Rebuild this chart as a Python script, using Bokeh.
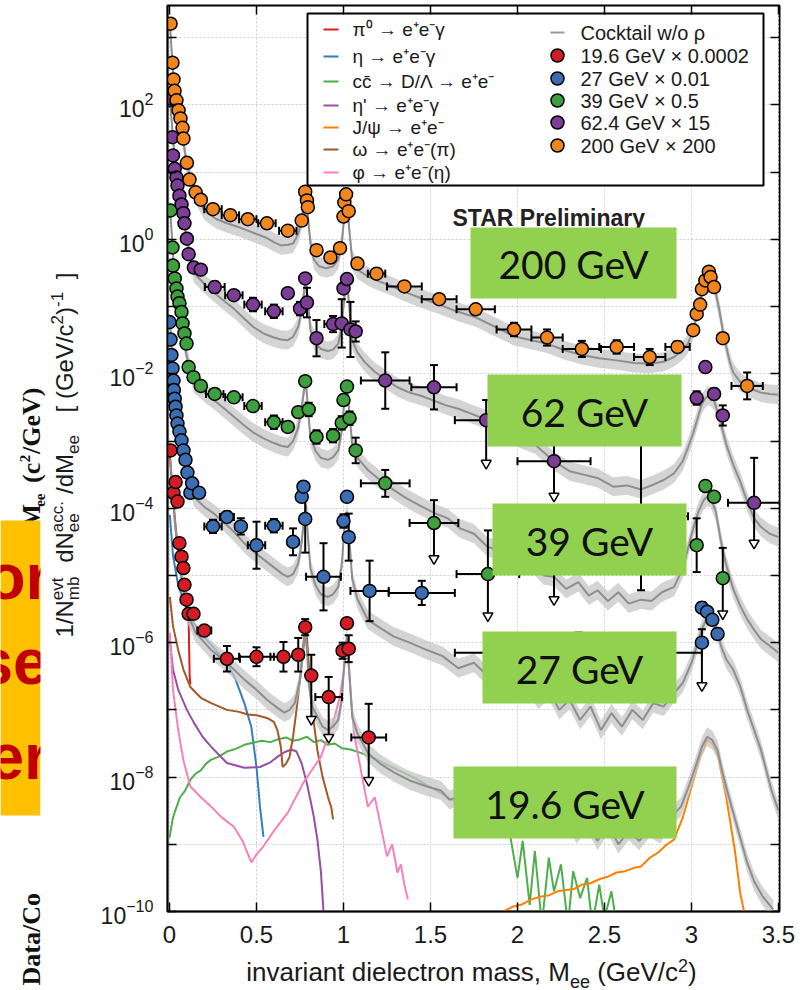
import math
from bokeh.plotting import figure
from bokeh.layouts import row, column
from bokeh.models import (Range1d, LinearAxis, LogAxis, FixedTicker, NumeralTickFormatter,
                          CustomJSTickFormatter, LogTickFormatter)
from bokeh.core.properties import value
from bokeh.embed import file_html
from bokeh.resources import INLINE

# ---------------- data (log10 of y) ----------------
# 200 GeV x 200 (orange)
x200 = [0.006, 0.017, 0.023, 0.029, 0.04, 0.052, 0.063, 0.075, 0.08, 0.10,
        0.115, 0.15, 0.18, 0.25, 0.35, 0.45, 0.56, 0.68, 0.76, 0.78,
        0.79, 0.795, 0.845, 0.925, 0.98, 1.0, 1.005, 1.015, 1.03, 1.08,
        1.19, 1.35, 1.55, 1.76, 1.98, 2.17, 2.37, 2.57, 2.76, 2.92,
        3.01, 3.03, 3.05, 3.06, 3.08, 3.10, 3.11, 3.13, 3.18, 3.32]
ly200 = [3.21, 2.63, 2.38, 2.21, 2.07, 1.92, 1.80, 1.66, 1.50, 1.14,
         0.89, 0.70, 0.59, 0.45, 0.36, 0.30, 0.24, 0.13, 0.28, 0.71,
         0.58, 0.48, -0.16, -0.27, -0.13, 0.34, 0.55, 0.67, 0.42, -0.36,
         -0.51, -0.70, -0.89, -1.04, -1.34, -1.46, -1.63, -1.60, -1.75, -1.60,
         -1.35, -1.11, -0.97, -0.74, -0.61, -0.48, -0.56, -0.71, -1.47, -2.18]
xe200 = [0] * 13 + [0.05, 0.05, 0.05, 0.05, 0.05, 0.02, 0,
                    0, 0, 0.02, 0.03, 0.02, 0, 0, 0, 0, 0.03,
                    0.05, 0.1, 0.1, 0.11, 0.1, 0.09, 0.11, 0.1, 0.09, 0.07,
                    0, 0, 0, 0, 0, 0, 0, 0, 0.03, 0.09]
ye200 = [0] * 13 + [0.04, 0.04, 0.04, 0.04, 0.04, 0.04, 0,
                    0, 0, 0.06, 0.05, 0.06, 0, 0, 0, 0, 0.05,
                    0.06, 0.06, 0.06, 0.06, 0.1, 0.12, 0.12, 0.1, 0.12, 0.08,
                    0.04, 0.04, 0, 0, 0, 0, 0, 0, 0.05, 0.2]
ul200 = [None] * 50

# 62.4 GeV x 15 (purple)
x62 = [0.0, 0.017, 0.02, 0.03, 0.04, 0.046, 0.057, 0.069, 0.08, 0.086,
       0.10, 0.11, 0.14, 0.18, 0.26, 0.37, 0.48, 0.60, 0.68, 0.75,
       0.78, 0.79, 0.845, 0.94, 0.99, 1.0, 1.02, 1.04, 1.07, 1.24,
       1.52, 1.82, 2.21, 3.03, 3.08, 3.13, 3.18, 3.36]
ly62 = [2.07, 1.52, 1.25, 1.05, 0.92, 0.80, 0.65, 0.52, 0.39, 0.24,
        0.01, -0.22, -0.42, -0.45, -0.71, -0.83, -0.97, -1.07, -0.80, -1.03,
        -0.58, -0.94, -1.47, -1.26, -1.25, -0.73, -0.59, -1.34, -1.37, -2.10,
        -2.20, -2.69, -3.30, -2.36, -1.90, -2.30, -2.62, -3.92]
xe62 = [0] * 14 + [0.057, 0.05, 0.05, 0.05, 0, 0.02,
                   0, 0, 0.02, 0.05, 0.02, 0, 0, 0.02, 0.03, 0.14,
                   0.13, 0.18, 0.21, 0, 0, 0, 0, 0.15]
ye62 = [0] * 14 + [0.08, 0.06, 0.1, 0.1, 0, 0.1,
                   0, 0.22, 0.27, 0.12, 0.36, 0, 0, 0.41, 0.15, 0.42,
                   0.33, 0.3, 0.3, 0.1, 0, 0.08, 0.15, 0.67]
ul62 = [None] * 31 + [-3.39, -3.88, None, None, None, None, -4.58]

# 39 GeV x 0.5 (green)
x39 = [0.006, 0.017, 0.02, 0.03, 0.04, 0.046, 0.057, 0.069, 0.075, 0.086,
       0.098, 0.11, 0.138, 0.18, 0.26, 0.37, 0.48, 0.60, 0.68, 0.74,
       0.78, 0.80, 0.845, 0.94, 0.99, 1.0, 1.02, 1.035, 1.07, 1.24,
       1.52, 1.83, 2.71, 3.03, 3.08, 3.13, 3.18]
ly39 = [0.43, -0.12, -0.39, -0.58, -0.73, -0.85, -0.95, -1.08, -1.25, -1.40,
        -1.55, -1.90, -2.05, -2.18, -2.30, -2.35, -2.48, -2.72, -2.79, -2.57,
        -2.11, -2.53, -2.94, -2.92, -2.73, -2.39, -2.19, -2.66, -3.14, -3.63,
        -4.22, -4.98, -4.12, -4.55, -3.67, -3.83, -5.04]
xe39 = [0] * 14 + [0.05, 0.05, 0.05, 0.05, 0, 0.02,
                   0, 0, 0.03, 0.03, 0, 0, 0, 0, 0.02, 0.14,
                   0.14, 0.18, 0.27, 0, 0, 0, 0]
ye39 = [0] * 14 + [0.04, 0.04, 0.06, 0.1, 0, 0.06,
                   0.05, 0.1, 0.1, 0.1, 0.1, 0, 0, 0.1, 0.19, 0.2,
                   0.34, 0.65, 1.1, 0.4, 0, 0, 0.45]
ul39 = [None] * 30 + [-4.81, -5.66, None, None, None, None, -5.63]

# 27 GeV x 0.01 (blue)
x27 = [0.0, 0.006, 0.011, 0.017, 0.023, 0.025, 0.03, 0.035, 0.04, 0.046,
       0.057, 0.069, 0.08, 0.092, 0.103, 0.12, 0.13, 0.17, 0.25, 0.33,
       0.41, 0.50, 0.60, 0.71, 0.76, 0.77, 0.78, 0.885, 1.0, 1.02,
       1.03, 1.15, 1.45, 2.21, 2.35, 3.06, 3.06, 3.09, 3.12, 3.15]
ly27 = [-1.23, -1.49, -1.72, -1.92, -2.10, -2.24, -2.37, -2.49, -2.62, -2.74,
        -2.86, -2.99, -3.14, -3.28, -3.47, -3.77, -3.63, -3.77, -4.27, -4.13,
        -4.27, -4.55, -4.26, -4.50, -3.83, -3.68, -4.16, -5.02, -4.19, -3.83,
        -4.43, -5.23, -5.26, -4.84, -6.15, -6.00, -5.48, -5.54, -5.66, -5.87]
xe27 = [0] * 18 + [0.05, 0.04,
                   0.03, 0.05, 0.05, 0.03, 0, 0, 0, 0.1, 0, 0,
                   0, 0.11, 0.19, 0.1, 0.71, 0, 0, 0, 0, 0]
ye27 = [0] * 18 + [0.1, 0.08,
                   0.12, 0.35, 0.1, 0.2, 0, 0, 0.5, 0.5, 0.1, 0,
                   0.35, 0.45, 0.18, 0.1, 0.3, 0.2, 0.08, 0, 0, 0.08]
ul27 = [None] * 33 + [-5.42, None, -6.70, None, None, None, None]

# 19.6 GeV x 0.0002 (red)
x19 = [0.006, 0.023, 0.035, 0.046, 0.057, 0.069, 0.08, 0.086, 0.098, 0.11,
       0.138, 0.20, 0.33, 0.50, 0.655, 0.74, 0.78, 0.815, 0.915, 0.995,
       1.02, 1.03, 1.145]
ly19 = [-3.14, -3.77, -3.61, -3.90, -4.52, -4.72, -4.89, -5.14, -5.36, -5.57,
        -5.57, -5.82, -6.24, -6.21, -6.21, -6.18, -5.77, -6.49, -6.81, -6.12,
        -5.71, -6.09, -7.41]
xe19 = [0] * 11 + [0.04, 0.075, 0.1, 0.075, 0.03, 0, 0, 0.077, 0, 0, 0, 0.1]
ye19 = [0] * 11 + [0, 0.19, 0.14, 0.22, 0.25, 0.12, 0.31, 0.3, 0.12, 0.05, 0.2, 0.5]
ul19 = [None] * 17 + [-7.2, -7.47, None, None, None, -8.11]

# cocktails w/o rho (log10)
c200_x = [0.005, 0.02, 0.05, 0.08, 0.10, 0.15, 0.20, 0.27, 0.33, 0.40,
          0.45, 0.50, 0.56, 0.60, 0.64, 0.68, 0.71, 0.74, 0.76, 0.775,
          0.785, 0.795, 0.81, 0.83, 0.86, 0.90, 0.94, 0.97, 0.99, 1.005,
          1.02, 1.035, 1.05, 1.08, 1.14, 1.20, 1.28, 1.35, 1.45, 1.55,
          1.65, 1.76, 1.87, 1.98, 2.08, 2.17, 2.27, 2.37, 2.47, 2.57,
          2.67, 2.76, 2.84, 2.90, 2.95, 2.98, 3.01, 3.03, 3.05, 3.07,
          3.09, 3.11, 3.13, 3.16, 3.18, 3.20, 3.22, 3.24, 3.28, 3.32,
          3.36, 3.40, 3.45, 3.50]
c200_ly = [3.1, 2.5, 2.0, 1.45, 1.1, 0.68, 0.43, 0.30, 0.24, 0.18,
           0.13, 0.08, 0.02, -0.04, -0.09, -0.08, -0.06, 0.08, 0.30, 0.55,
           0.62, 0.35, -0.05, -0.30, -0.40, -0.43, -0.40, -0.30, -0.05, 0.35,
           0.55, 0.10, -0.30, -0.45, -0.55, -0.62, -0.70, -0.78, -0.88, -0.97,
           -1.07, -1.16, -1.30, -1.44, -1.50, -1.55, -1.65, -1.72, -1.77, -1.80,
           -1.84, -1.85, -1.82, -1.75, -1.65, -1.55, -1.35, -1.12, -0.90, -0.70,
           -0.57, -0.56, -0.68, -1.05, -1.35, -1.60, -1.82, -1.98, -2.12, -2.19,
           -2.24, -2.28, -2.30, -2.31]
c62_x = [0.005, 0.03, 0.06, 0.10, 0.14, 0.20, 0.26, 0.33, 0.37, 0.43,
         0.48, 0.54, 0.60, 0.64, 0.68, 0.71, 0.74, 0.76, 0.775, 0.785,
         0.795, 0.81, 0.84, 0.87, 0.91, 0.94, 0.97, 0.99, 1.005, 1.02,
         1.035, 1.05, 1.08, 1.12, 1.18, 1.24, 1.31, 1.38, 1.45, 1.52,
         1.59, 1.66, 1.74, 1.82, 1.90, 2.00, 2.10, 2.21, 2.30, 2.38,
         2.46, 2.55, 2.63, 2.71, 2.78, 2.84, 2.90, 2.95, 2.98, 3.01,
         3.04, 3.06, 3.08, 3.10, 3.13, 3.16, 3.20, 3.24, 3.28, 3.32,
         3.36, 3.40, 3.45, 3.50]
c62_ly = [2.0, 1.2, 0.6, 0.0, -0.50, -0.66, -0.80, -0.95, -1.03, -1.18,
          -1.30, -1.40, -1.46, -1.49, -1.50, -1.45, -1.30, -1.05, -0.75, -0.62,
          -0.90, -1.35, -1.55, -1.63, -1.66, -1.64, -1.55, -1.30, -0.85, -0.62,
          -1.05, -1.50, -1.68, -1.82, -1.97, -2.08, -2.20, -2.28, -2.33, -2.40,
          -2.47, -2.52, -2.60, -2.68, -2.85, -2.95, -3.05, -3.30, -3.45, -3.50,
          -3.55, -3.68, -3.66, -3.72, -3.65, -3.58, -3.48, -3.30, -3.10, -2.88,
          -2.62, -2.45, -2.36, -2.32, -2.40, -2.65, -3.05, -3.35, -3.60, -3.90,
          -4.15, -4.28, -4.38, -4.43]
c39_x = [0.005, 0.03, 0.06, 0.10, 0.14, 0.20, 0.26, 0.33, 0.37, 0.43,
         0.48, 0.54, 0.60, 0.64, 0.68, 0.71, 0.74, 0.76, 0.775, 0.785,
         0.795, 0.81, 0.84, 0.87, 0.91, 0.94, 0.97, 0.99, 1.005, 1.02,
         1.035, 1.05, 1.08, 1.14, 1.21, 1.29, 1.36, 1.44, 1.52, 1.60,
         1.67, 1.75, 1.83, 1.91, 2.00, 2.08, 2.15, 2.21, 2.28, 2.35,
         2.41, 2.46, 2.52, 2.58, 2.64, 2.71, 2.77, 2.83, 2.90, 2.95,
         2.98, 3.01, 3.04, 3.07, 3.09, 3.11, 3.14, 3.17, 3.20, 3.24,
         3.28, 3.32, 3.36, 3.40, 3.45, 3.50]
c39_ly = [0.4, -0.6, -1.2, -1.75, -2.14, -2.28, -2.40, -2.55, -2.64, -2.77,
          -2.87, -2.96, -3.03, -3.07, -3.09, -3.00, -2.80, -2.50, -2.20, -2.12,
          -2.50, -2.95, -3.15, -3.25, -3.28, -3.24, -3.14, -2.85, -2.40, -2.22,
          -2.60, -3.05, -3.25, -3.43, -3.58, -3.73, -3.85, -3.96, -4.07, -4.15,
          -4.30, -4.38, -4.58, -4.62, -4.82, -4.80, -5.00, -5.02, -5.20, -5.10,
          -5.30, -5.22, -5.38, -5.25, -5.42, -5.36, -5.38, -5.25, -5.17, -4.90,
          -4.60, -4.30, -4.05, -3.88, -3.83, -3.85, -4.05, -4.50, -4.85, -5.20,
          -5.45, -5.65, -5.81, -5.95, -6.05, -6.15]
c27_x = [0.005, 0.03, 0.06, 0.10, 0.14, 0.20, 0.25, 0.31, 0.37, 0.44,
         0.52, 0.60, 0.65, 0.68, 0.71, 0.74, 0.76, 0.775, 0.785, 0.795,
         0.81, 0.84, 0.87, 0.91, 0.94, 0.97, 0.99, 1.005, 1.02, 1.035,
         1.05, 1.08, 1.14, 1.21, 1.29, 1.38, 1.48, 1.57, 1.66, 1.75,
         1.83, 1.91, 2.00, 2.06, 2.12, 2.18, 2.24, 2.30, 2.36, 2.42,
         2.48, 2.54, 2.60, 2.66, 2.72, 2.78, 2.84, 2.90, 2.95, 3.00,
         3.03, 3.06, 3.09, 3.11, 3.14, 3.17, 3.20, 3.24, 3.28, 3.32,
         3.36, 3.40, 3.43, 3.46, 3.50]
c27_ly = [-1.3, -2.3, -2.9, -3.4, -3.83, -3.98, -4.07, -4.20, -4.35, -4.55,
          -4.72, -4.88, -4.98, -5.02, -4.98, -4.82, -4.50, -4.10, -3.95, -4.40,
          -4.90, -5.15, -5.28, -5.32, -5.28, -5.17, -4.85, -4.30, -4.05, -4.50,
          -5.05, -5.35, -5.66, -5.78, -5.91, -6.00, -6.11, -6.20, -6.38, -6.30,
          -6.50, -6.45, -6.70, -6.60, -6.85, -6.70, -7.00, -6.85, -7.15, -6.95,
          -7.30, -7.05, -7.25, -7.00, -7.15, -6.90, -6.95, -6.75, -6.60, -6.30,
          -6.05, -5.80, -5.62, -5.60, -5.75, -6.05, -6.25, -6.40, -6.65, -7.00,
          -7.30, -7.60, -7.90, -8.20, -8.50]
c19_x = [0.005, 0.03, 0.06, 0.10, 0.15, 0.24, 0.33, 0.43, 0.50, 0.56,
         0.62, 0.66, 0.69, 0.72, 0.75, 0.77, 0.78, 0.79, 0.80, 0.82,
         0.85, 0.88, 0.91, 0.94, 0.97, 0.99, 1.005, 1.02, 1.035, 1.05,
         1.08, 1.14, 1.21, 1.29, 1.38, 1.48, 1.56, 1.61, 1.70, 1.80,
         1.90, 1.97, 2.04, 2.10, 2.16, 2.22, 2.28, 2.34, 2.40, 2.46,
         2.52, 2.58, 2.64, 2.70, 2.76, 2.82, 2.88, 2.94, 2.99, 3.03,
         3.06, 3.09, 3.12, 3.15, 3.18, 3.21, 3.24, 3.28, 3.32, 3.36,
         3.41, 3.47]
c19_ly = [-3.3, -4.2, -4.9, -5.55, -5.85, -6.11, -6.30, -6.55, -6.70, -6.85,
          -6.97, -7.04, -7.00, -6.90, -6.55, -6.10, -5.85, -6.10, -6.60, -6.95,
          -7.10, -7.25, -7.30, -7.25, -7.15, -6.85, -6.30, -5.90, -6.50, -7.10,
          -7.35, -7.64, -7.80, -7.93, -8.05, -8.14, -8.20, -8.34, -8.25, -8.45,
          -8.30, -8.50, -8.35, -8.60, -8.45, -8.75, -8.55, -8.85, -8.65, -8.95,
          -8.70, -9.00, -8.80, -8.95, -8.75, -8.85, -8.60, -8.44, -8.10, -7.79,
          -7.55, -7.40, -7.45, -7.60, -7.95, -8.25, -8.53, -8.90, -9.27, -9.55,
          -9.78, -9.97]
BAND = 0.14  # half width of cocktail uncertainty band (log10)

# cocktail components (19.6 GeV scaling), log10
pi0_x = [0.002, 0.02, 0.04, 0.06, 0.08, 0.10, 0.11, 0.113, 0.116, 0.12]
pi0_ly = [-3.2, -3.85, -4.4, -4.85, -5.2, -5.5, -5.62, -6.1, -6.5, -6.62]
eta_x = [0.002, 0.02, 0.05, 0.1, 0.14, 0.2, 0.27, 0.33, 0.38, 0.43, 0.47, 0.5, 0.52, 0.54]
eta_ly = [-4.1, -4.7, -5.15, -5.5, -5.71, -5.92, -6.12, -6.30, -6.55, -6.9, -7.25, -7.85, -8.44, -8.89]
cc_x = [0.0, 0.02, 0.04, 0.06, 0.09, 0.12, 0.15, 0.18, 0.21, 0.24,
        0.28, 0.33, 0.38, 0.43, 0.48, 0.53, 0.58, 0.62, 0.67, 0.71,
        0.75, 0.79, 0.83, 0.87, 0.91, 0.95, 0.99, 1.04, 1.1, 1.2,
        1.3, 1.4, 1.5, 1.6, 1.7, 1.8, 1.9, 1.96, 2.0, 2.03,
        2.07, 2.1, 2.14, 2.18, 2.21, 2.25, 2.29, 2.32, 2.36, 2.4,
        2.43, 2.47, 2.5, 2.54, 2.57, 2.6]
cc_ly = [-8.9, -8.6, -8.45, -8.3, -8.2, -8.04, -7.95, -7.9, -7.8, -7.74,
         -7.7, -7.62, -7.58, -7.52, -7.49, -7.46, -7.48, -7.44, -7.41, -7.46,
         -7.44, -7.4, -7.48, -7.45, -7.52, -7.5, -7.57, -7.59, -7.64, -7.75,
         -7.88, -8.0, -8.15, -8.3, -8.45, -8.6, -8.75, -8.9, -9.5, -8.95,
         -9.9, -9.1, -10.2, -9.2, -9.7, -9.3, -10.2, -9.4, -9.8, -9.5,
         -10.2, -9.6, -10.1, -9.7, -10.2, -10.1]
etap_x = [0.002, 0.02, 0.05, 0.1, 0.14, 0.19, 0.24, 0.33, 0.43, 0.52, 0.58,
          0.62, 0.66, 0.70, 0.73, 0.76, 0.79, 0.81, 0.83, 0.85, 0.87, 0.885]
etap_ly = [-5.96, -6.4, -6.70, -7.0, -7.19, -7.4, -7.55, -7.79, -7.86, -7.85, -7.78,
           -7.70, -7.63, -7.59, -7.62, -7.8, -8.1, -8.34, -8.6, -8.93, -9.4, -10.0]
jpsi_x = [1.92, 1.97, 2.02, 2.08, 2.13, 2.18, 2.23, 2.28, 2.32, 2.37,
          2.42, 2.47, 2.52, 2.57, 2.62, 2.67, 2.71, 2.76, 2.81, 2.86,
          2.9, 2.95, 3.0, 3.05, 3.09, 3.12, 3.15, 3.2, 3.25, 3.28, 3.31]
jpsi_ly = [-10.0, -9.93, -9.9, -9.82, -9.78, -9.76, -9.7, -9.68, -9.67, -9.6,
           -9.58, -9.52, -9.48, -9.42, -9.4, -9.35, -9.33, -9.2, -9.12, -9.0,
           -8.93, -8.6, -8.15, -7.7, -7.45, -7.5, -7.66, -8.3, -9.1, -9.72, -10.1]
omega_x = [0.002, 0.02, 0.05, 0.08, 0.12, 0.18, 0.24, 0.33, 0.4, 0.45,
           0.5, 0.56, 0.6, 0.62, 0.64, 0.65, 0.67, 0.69, 0.71, 0.73,
           0.75, 0.77, 0.785, 0.80, 0.82, 0.85, 0.88, 0.91, 0.93, 0.94]
omega_ly = [-5.32, -5.75, -6.11, -6.4, -6.66, -6.82, -6.90, -7.0, -7.03, -7.07,
            -7.08, -7.12, -7.18, -7.30, -7.55, -7.85, -7.8, -7.7, -7.4, -7.0,
            -6.55, -6.0, -5.75, -6.3, -7.0, -7.6, -8.0, -8.29, -8.45, -8.63]
phi_x = [0.002, 0.02, 0.05, 0.08, 0.12, 0.18, 0.24, 0.3, 0.37, 0.42,
         0.47, 0.5, 0.54, 0.6, 0.68, 0.77, 0.87, 0.94, 0.98, 1.0,
         1.02, 1.04, 1.06, 1.1, 1.14, 1.18, 1.22, 1.25, 1.28, 1.31,
         1.33, 1.35, 1.37]
phi_ly = [-5.85, -6.7, -7.30, -7.75, -8.14, -8.3, -8.44, -8.6, -8.74, -8.95,
          -9.27, -9.15, -9.03, -8.8, -8.53, -8.08, -7.70, -7.19, -6.8, -6.45,
          -6.0, -6.7, -7.34, -7.9, -8.44, -8.3, -8.8, -9.18, -9.0, -9.42,
          -9.3, -9.6, -9.82]

XTICKS = [0, 0.5, 1, 1.5, 2, 2.5, 3, 3.5]
YMAJ_EXP = [-10, -8, -6, -4, -2, 0, 2]
YMIN_EXP = [-9, -7, -5, -3, -1, 1, 3]

comp_names = ["π⁰ → e⁺e⁻γ", "η → e⁺e⁻γ", "cc\u0304 → D/Λ → e⁺e⁻", "η' → e⁺e⁻γ",
              "J/ψ → e⁺e⁻", "ω → e⁺e⁻(π)", "φ → e⁺e⁻(η)"]
data_names = ["19.6 GeV × 0.0002", "27 GeV × 0.01", "39 GeV × 0.5",
              "62.4 GeV × 15", "200 GeV × 200"]
box_names = ["200 GeV", "62 GeV", "39 GeV", "27 GeV", "19.6 GeV"]

# ---------------- styles / geometry ----------------
COMP_COLORS = ["#e41a1c", "#377eb8", "#4daf4a", "#984ea3", "#ff7f00", "#a65628", "#f781bf"]
DATA_COLORS = ["#d41c24", "#3b6db3", "#3e9f3e", "#7b3d96", "#f2861e"]
TXT = "#1a1a1a"
FONT = "Liberation Sans"
MID = 0.36  # cap-centre offset (fraction of font size) above baseline

W, H = 809, 990
SPLIT = 88            # width of the left strip (slide remnants + y title)
TITLE_H = 35          # height of the strip under the main plot (x title)
FL, FR, FT, FB = 167, 779, 5, 911
X0, X1 = -0.0115, 3.506
LY0, LY1 = -10.0, 3.48


def X(px):
    return X0 + (px - FL) / (FR - FL) * (X1 - X0)


def Y(py):
    return 10 ** (LY1 - (py - FT) / (FB - FT) * (LY1 - LY0))


def PY(lv):
    return FT + (LY1 - lv) / (LY1 - LY0) * (FB - FT)


def P10(a):
    return [10 ** v for v in a]


# ---------------- main plot ----------------
p = figure(width=W - SPLIT, height=H - TITLE_H, x_range=Range1d(X0, X1),
           y_range=Range1d(10 ** LY0, 10 ** LY1), y_axis_type="log",
           output_backend="svg", toolbar_location=None,
           min_border_left=FL - SPLIT, min_border_right=W - FR,
           min_border_top=FT, min_border_bottom=H - TITLE_H - FB,
           background_fill_color="white", border_fill_color="white")
p.title.visible = False
p.outline_line_color = "black"
p.outline_line_width = 2

xt = FixedTicker(ticks=XTICKS, minor_ticks=[])
yt = FixedTicker(ticks=[10.0 ** k for k in YMAJ_EXP], minor_ticks=[10.0 ** k for k in YMIN_EXP])
ygt = FixedTicker(ticks=[10.0 ** k for k in sorted(YMAJ_EXP + YMIN_EXP)], minor_ticks=[])
blank = CustomJSTickFormatter(code="return ''")

ax = p.xaxis[0]
ax.ticker = xt
ax.formatter = NumeralTickFormatter(format="0.[0]")
ax.major_label_text_font = FONT
ax.major_label_text_font_size = "24px"
ax.major_label_text_color = TXT
ax.major_label_standoff = 14
ay = p.yaxis[0]
ay.ticker = yt
ay.formatter = LogTickFormatter()
ay.major_label_text_font = FONT
ay.major_label_text_font_size = "23px"
ay.major_label_text_color = TXT
ay.major_label_standoff = 14
for a in (ax, ay):
    a.major_tick_in = 9
    a.major_tick_out = 0
    a.minor_tick_in = 9
    a.minor_tick_out = 0
    a.major_tick_line_width = 1.5
    a.minor_tick_line_width = 1.5
    a.axis_line_width = 1.5

top_axis = LinearAxis(ticker=xt, formatter=blank, major_label_text_font_size="2px",
                      major_label_standoff=0, major_tick_in=9, major_tick_out=0,
                      major_tick_line_width=1.5)
right_axis = LogAxis(ticker=yt, formatter=blank, major_label_text_font_size="2px",
                     major_label_standoff=0, major_tick_in=9, major_tick_out=0,
                     minor_tick_in=9, minor_tick_out=0,
                     major_tick_line_width=1.5, minor_tick_line_width=1.5)
p.add_layout(top_axis, "above")
p.add_layout(right_axis, "right")

p.xgrid.ticker = xt
p.ygrid.ticker = ygt
for g in (p.xgrid, p.ygrid):
    g.grid_line_color = "#cfcfcf"
    g.grid_line_dash = "2 2"
    g.grid_line_width = 1

# cocktail components
comps = [(pi0_x, pi0_ly), (eta_x, eta_ly), (cc_x, cc_ly), (etap_x, etap_ly),
         (jpsi_x, jpsi_ly), (omega_x, omega_ly), (phi_x, phi_ly)]
for (cx, cy), col in zip(comps, COMP_COLORS):
    n = min(len(cx), len(cy))
    p.line(cx[:n], P10(cy[:n]), line_color=col, line_width=2)

# cocktail bands + lines
for cx, cy in [(c19_x, c19_ly), (c27_x, c27_ly), (c39_x, c39_ly), (c62_x, c62_ly), (c200_x, c200_ly)]:
    n = min(len(cx), len(cy))
    p.varea(x=cx[:n], y1=[10 ** (v - BAND) for v in cy[:n]],
            y2=[10 ** (v + BAND) for v in cy[:n]], fill_color="#c6c6c6", fill_alpha=0.75)
    p.line(cx[:n], P10(cy[:n]), line_color="#8e8e8e", line_width=2)


def draw_series(xs, lys, xes, yes, uls, color):
    n = min(len(xs), len(lys), len(xes), len(yes), len(uls))
    hx0, hx1, hy, vx, vy0, vy1 = [], [], [], [], [], []
    cvx, cvy, chx, chy, tx, ty = [], [], [], [], [], []
    for i in range(n):
        x, lv, xe, ye, ul = xs[i], lys[i], xes[i], yes[i], uls[i]
        y = 10 ** lv
        if xe > 0:
            hx0.append(x - xe); hx1.append(x + xe); hy.append(y)
            cvx += [x - xe, x + xe]; cvy += [y, y]
        if ul is not None:
            top = 10 ** (lv + ye)
            vx.append(x); vy0.append(top); vy1.append(Y(PY(ul) - 6))
            if ye > 0:
                chx.append(x); chy.append(top)
            tx.append(x); ty.append(Y(PY(ul) - 4))
        elif ye > 0:
            lo, hi = 10 ** (lv - ye), 10 ** (lv + ye)
            vx.append(x); vy0.append(lo); vy1.append(hi)
            chx += [x, x]; chy += [lo, hi]
    p.segment(hx0, hy, hx1, hy, line_color="black", line_width=2)
    p.segment(vx, vy0, vx, vy1, line_color="black", line_width=2)
    p.scatter(chx, chy, marker="dash", size=8, line_color="black", line_width=2)
    p.scatter(cvx, cvy, marker="dash", size=8, angle=math.pi / 2, line_color="black", line_width=2)
    p.scatter(tx, ty, marker="inverted_triangle", size=10, fill_color="white",
              line_color="black", line_width=1.5)
    p.scatter(xs[:n], P10(lys[:n]), marker="circle", size=13, fill_color=color,
              line_color="black", line_width=1.5)


series = [(x19, ly19, xe19, ye19, ul19), (x27, ly27, xe27, ye27, ul27),
          (x39, ly39, xe39, ye39, ul39), (x62, ly62, xe62, ye62, ul62),
          (x200, ly200, xe200, ye200, ul200)]
for s, col in zip(series, DATA_COLORS):
    draw_series(*s, col)

p.text(x=[X(452)], y=[Y(217)], text=["STAR Preliminary"], text_font=value(FONT),
       text_font_style="bold", text_font_size="23px", text_color="#222222",
       text_baseline="middle", text_align="left")

boxes = [(470, 676, 227, 298), (487, 681, 374, 446), (492, 686, 503, 575),
         (482, 676, 631, 703), (453, 676, 766, 838)]
p.quad(left=[X(b[0]) for b in boxes], right=[X(b[1]) for b in boxes],
       top=[Y(b[2]) for b in boxes], bottom=[Y(b[3]) for b in boxes],
       fill_color="#92D050", line_color=None)
p.text(x=[X((b[0] + b[1]) / 2) for b in boxes], y=[Y((b[2] + b[3]) / 2 + 1) for b in boxes],
       text=box_names, text_font=value("Lato"), text_font_size="39px", text_color="#111111",
       text_align="center", text_baseline="middle")

# legend
p.quad(left=[X(307)], right=[X(763)], top=[Y(13)], bottom=[Y(185)],
       fill_color="white", line_color="black", line_width=2)
rows_l = [29, 56, 81, 105, 127, 149, 172]
for r, col in zip(rows_l, COMP_COLORS):
    p.segment([X(323)], [Y(r)], [X(338)], [Y(r)], line_color=col, line_width=2)
p.text(x=[X(352)] * 7, y=[Y(r) for r in rows_l], text=comp_names, text_font=value(FONT),
       text_font_size="19px", text_color=TXT, text_baseline="middle", text_align="left")
rows_r = [32, 55, 78, 100, 122, 145]
p.segment([X(550)], [Y(rows_r[0])], [X(564)], [Y(rows_r[0])], line_color="#9a9a9a", line_width=2)
p.scatter([X(557)] * 5, [Y(r) for r in rows_r[1:]], marker="circle", size=13,
          fill_color=DATA_COLORS, line_color="black", line_width=1.5)
p.text(x=[X(580)] * 6, y=[Y(r) for r in rows_r], text=["Cocktail w/o ρ"] + data_names,
       text_font=value(FONT), text_font_size="20px", text_color=TXT,
       text_baseline="middle", text_align="left")

# ---------------- side strips (canvas-pixel coordinates; y = H - pixel row) ----------------
left = figure(width=SPLIT, height=H, x_range=Range1d(0, SPLIT), y_range=Range1d(0, H),
              output_backend="svg", toolbar_location=None, min_border=0,
              x_axis_location=None, y_axis_location=None,
              background_fill_color="white", border_fill_color="white")
left.title.visible = False
left.grid.visible = False
left.outline_line_color = None

# the column layout aligns this strip's frame with the main frame (canvas FL..FR)
bottom = figure(width=W - SPLIT, height=TITLE_H, x_range=Range1d(FL, FR),
                y_range=Range1d(0, TITLE_H), output_backend="svg", toolbar_location=None,
                min_border=0, x_axis_location=None, y_axis_location=None,
                background_fill_color="white", border_fill_color="white")
bottom.title.visible = False
bottom.grid.visible = False
bottom.outline_line_color = None

AW = {' ': 278, '.': 278, ',': 278, '/': 278, '-': 333, '(': 333, ')': 333, '[': 278, ']': 278,
      'a': 556, 'b': 556, 'c': 500, 'd': 556, 'e': 556, 'f': 278, 'g': 556, 'h': 556, 'i': 222,
      'k': 500, 'l': 222, 'm': 833, 'n': 556, 'o': 556, 'p': 556, 'r': 333, 's': 500, 't': 278,
      'u': 556, 'v': 500, 'w': 722, 'x': 500, 'y': 500, 'C': 722, 'D': 722, 'G': 778, 'M': 833,
      'N': 722, 'V': 667}


def tw(s, size):
    return sum(AW.get(ch, 556) for ch in s) * size / 1000.0


def rich(fig, items, px, py, vertical=False, font=FONT, style="normal", color=TXT):
    """items: ("t", text, size, shift), ("s", sup, sub, size, shift_sup, shift_sub) or
    ("g", gap_px); (px, py) = start of the main baseline, canvas pixels from top-left.
    Leading/trailing blanks are turned into gaps (SVG text drops them)."""
    pos = 0.0
    for it in items:
        if it[0] == "g":
            pos += it[1]
            continue
        if it[0] == "t":
            _, t, size, shift = it
            lead = len(t) - len(t.lstrip(" "))
            trail = len(t) - len(t.rstrip(" "))
            pos += tw(" " * lead, size)
            t = t.strip(" ")
            parts = [(t, size, shift)]
            adv = tw(t, size) + tw(" " * trail, size)
        else:
            _, t1, t2, size, s1, s2 = it
            parts = [(t1, size, s1), (t2, size, s2)]
            adv = max(tw(t1, size), tw(t2, size)) + 2
        for t, size, shift in parts:
            off = shift + MID * size
            if vertical:
                gx, gy, ang = px - off, py - pos, math.pi / 2
            else:
                gx, gy, ang = px + pos, py - off, 0.0
            fig.text(x=[gx], y=[H - gy], text=[t], text_font=value(font),
                     text_font_size=f"{size}px", text_font_style=style, text_color=color,
                     text_align="left", text_baseline="middle", angle=ang)
        pos += adv
    return pos


# x axis title (bottom strip: y = H - row)
xt_items = [("t", "invariant dielectron mass, M", 26, 0), ("t", "ee", 18, -6),
            ("t", " (GeV/c", 26, 0), ("t", "2", 18, 10), ("t", ")", 26, 0)]
tot = tw("invariant dielectron mass, M", 26) + tw("ee", 18) + tw(" (GeV/c", 26) + tw("2", 18) + tw(")", 26)
rich(bottom, xt_items, 471 - tot / 2, 981)

# slide remnants on the left, under the orange box
rich(left, [("t", "M", 26, 0), ("t", "ee", 15, -5), ("t", " (c", 26, 0), ("g", -1),
            ("t", "2", 15, 10), ("t", "/GeV)", 26, 0)], 40, 528, vertical=True,
     font="Liberation Serif", style="bold", color="#111111")
rich(left, [("t", "Data/Co", 26, 0)], 40, 985, vertical=True, font="Liberation Serif",
     style="bold", color="#111111")
left.quad(left=[0], right=[40], top=[H - 520], bottom=[H - 815],
          fill_color="#FFC000", line_color=None)
left.text(x=[-14, -23, -12], y=[H - (600 - MID * 64), H - (685 - MID * 64), H - (780 - MID * 64)],
          text=["or", "se", "er"], text_font=value(FONT), text_font_style="bold",
          text_font_size="64px", text_color="#C00000", text_baseline="middle", text_align="left")
left.quad(left=[40], right=[54], top=[H - 515], bottom=[H - 820],
          fill_color="white", line_color=None)

# y axis title (rotated, reads bottom to top)
yt_items = [("t", "1/N", 24, 0), ("s", "evt", "mb", 17, 10, -6), ("g", 5),
            ("t", " dN", 24, 0), ("s", "acc.", "ee", 17, 10, -6), ("g", 5),
            ("t", "/dM", 24, 0), ("t", "ee", 17, -6), ("g", 16),
            ("t", " [ (GeV/c", 24, 0), ("t", "2", 17, 10), ("t", ")", 24, 0),
            ("t", "-1", 17, 10), ("g", 6), ("t", " ]", 24, 0)]
rich(left, yt_items, 73, 637, vertical=True)

layout = row(left, column(p, bottom, spacing=0), spacing=0)
open("out.html", "w").write(file_html(layout, INLINE))
